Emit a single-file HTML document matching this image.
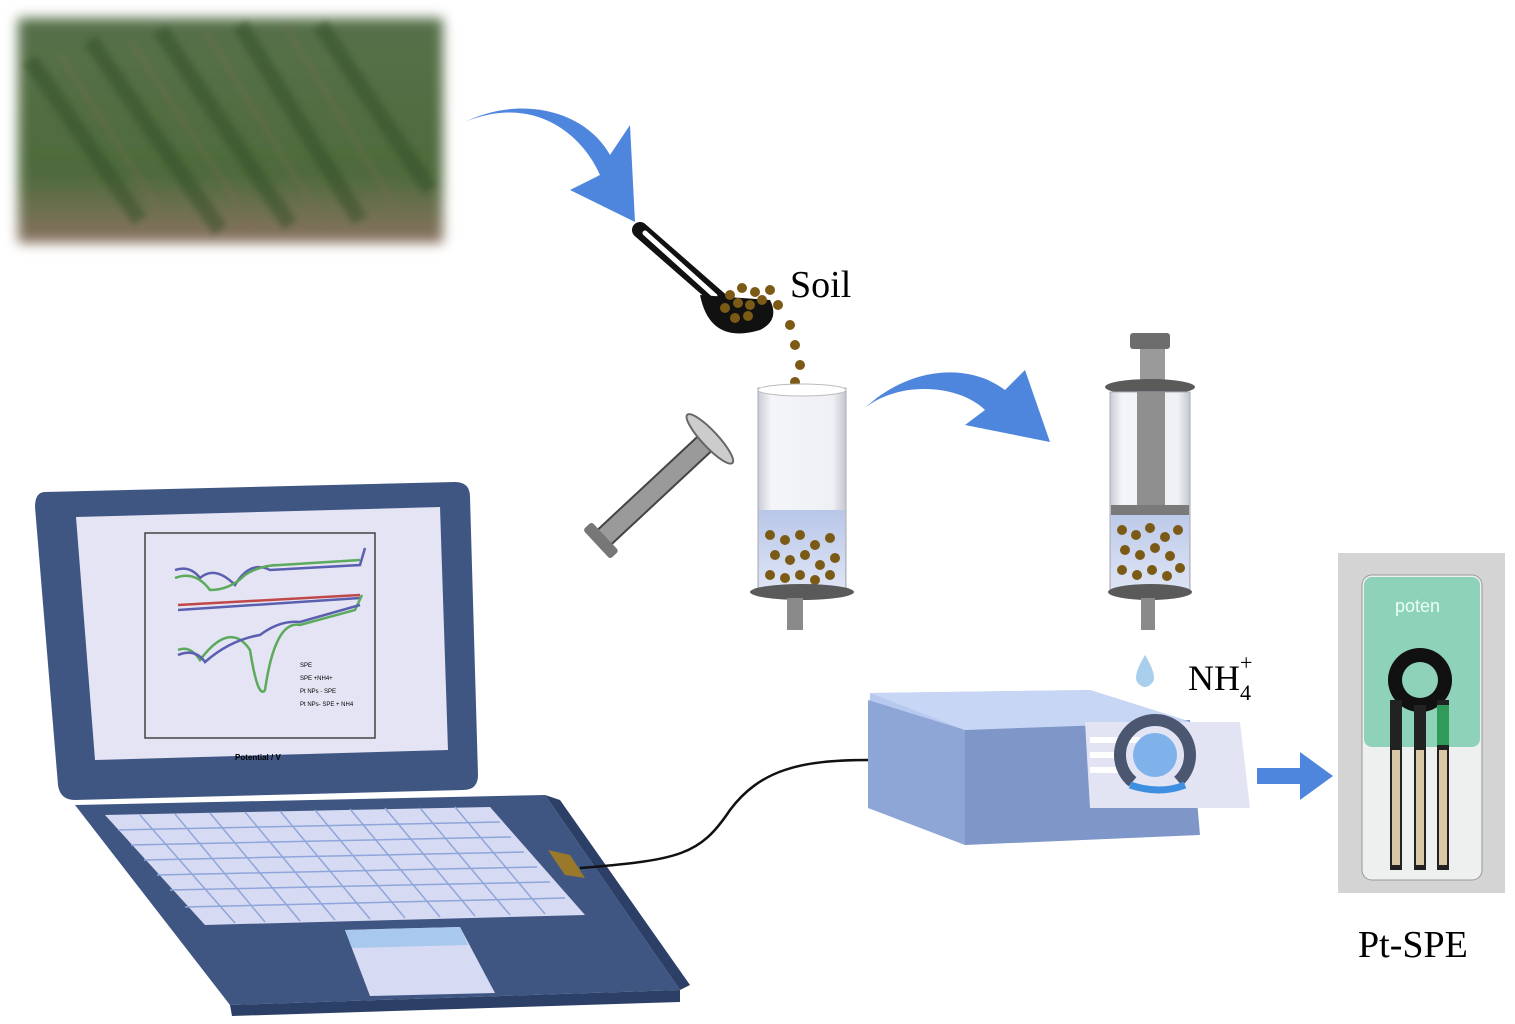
<!DOCTYPE html>
<html><head><meta charset="utf-8"><style>
html,body{margin:0;padding:0;background:#fff;width:1515px;height:1024px;overflow:hidden}
svg{display:block}
text{font-family:"Liberation Serif",serif;fill:#000}
</style></head><body>
<svg width="1515" height="1024" viewBox="0 0 1515 1024" xmlns="http://www.w3.org/2000/svg">
<defs>
<filter id="blur"><feGaussianBlur stdDeviation="6"/></filter>
<filter id="blur2"><feGaussianBlur stdDeviation="3"/></filter>
<linearGradient id="field" x1="0" y1="0" x2="0" y2="1">
<stop offset="0" stop-color="#56704a"/><stop offset="0.7" stop-color="#4f6b3c"/><stop offset="1" stop-color="#8a7362"/></linearGradient>
<linearGradient id="glass" x1="0" y1="0" x2="1" y2="0">
<stop offset="0" stop-color="#c9ccd4"/><stop offset="0.15" stop-color="#f4f5f8"/><stop offset="0.85" stop-color="#eef0f4"/><stop offset="1" stop-color="#c4c7cf"/></linearGradient>
<linearGradient id="liq" x1="0" y1="0" x2="0" y2="1">
<stop offset="0" stop-color="#b8c6e8"/><stop offset="1" stop-color="#dde4f4"/></linearGradient>
</defs>

<!-- field photo -->
<g filter="url(#blur)">
<rect x="18" y="18" width="425" height="225" fill="url(#field)"/>
</g>
<g filter="url(#blur2)">
<g opacity="0.45" stroke="#2f4a26" stroke-width="16">
<path d="M30,60 L140,220"/><path d="M90,40 L220,230"/><path d="M160,30 L290,225"/><path d="M240,25 L360,220"/><path d="M320,25 L430,190"/>
</g>
<g opacity="0.35" stroke="#7f6a55" stroke-width="4">
<path d="M60,55 L170,225"/><path d="M130,40 L255,230"/><path d="M205,30 L325,225"/><path d="M285,25 L400,215"/>
</g>
</g>

<!-- arrow 1 -->
<path d="M465,122 C530,95 580,130 600,175 L570,190 L635,222 L630,125 L610,155 C585,110 520,95 465,122z" fill="#4f86dd"/>
<!-- scoop -->
<path d="M640,230 L720,300" stroke="#111" stroke-width="16" stroke-linecap="round"/>
<path d="M645,233 L715,296" stroke="#fff" stroke-width="5" stroke-linecap="round"/>
<path d="M700,295 Q710,345 760,330 Q780,320 770,300 z" fill="#111"/>
<g fill="#7a5a15">
<circle cx="730" cy="295" r="5"/><circle cx="742" cy="288" r="5"/><circle cx="755" cy="292" r="5"/><circle cx="725" cy="308" r="5"/><circle cx="738" cy="303" r="5"/><circle cx="750" cy="305" r="5"/><circle cx="762" cy="300" r="5"/><circle cx="735" cy="318" r="5"/><circle cx="748" cy="316" r="5"/><circle cx="770" cy="290" r="5"/><circle cx="778" cy="305" r="5"/><circle cx="790" cy="325" r="5"/><circle cx="795" cy="345" r="5"/><circle cx="800" cy="365" r="5"/><circle cx="795" cy="382" r="5"/><circle cx="808" cy="395" r="5"/><circle cx="792" cy="410" r="5"/><circle cx="812" cy="420" r="5"/><circle cx="790" cy="435" r="5"/><circle cx="805" cy="445" r="5"/><circle cx="798" cy="462" r="5"/><circle cx="815" cy="470" r="5"/>
</g>
<text x="790" y="297" font-size="38">Soil</text>

<!-- tilted plunger -->
<g transform="rotate(-43 655 490)">
<rect x="585" y="480" width="140" height="20" fill="#9a9a9a" stroke="#444" stroke-width="2"/>
<rect x="575" y="470" width="12" height="40" rx="3" fill="#777"/>
<ellipse cx="730" cy="490" rx="8" ry="33" fill="#ccc" stroke="#666" stroke-width="2"/>
</g>

<!-- left syringe -->
<rect x="758" y="388" width="88" height="200" fill="url(#glass)" stroke="#aab" stroke-width="1"/>
<ellipse cx="802" cy="390" rx="44" ry="6" fill="#fff" stroke="#bbb"/>
<rect x="759" y="510" width="86" height="78" fill="url(#liq)"/>
<g fill="#7a5a15">
<circle cx="770" cy="535" r="5"/><circle cx="785" cy="540" r="5"/><circle cx="800" cy="535" r="5"/><circle cx="815" cy="545" r="5"/><circle cx="830" cy="538" r="5"/><circle cx="775" cy="555" r="5"/><circle cx="790" cy="560" r="5"/><circle cx="805" cy="555" r="5"/><circle cx="820" cy="565" r="5"/><circle cx="835" cy="558" r="5"/><circle cx="770" cy="575" r="5"/><circle cx="785" cy="578" r="5"/><circle cx="800" cy="575" r="5"/><circle cx="815" cy="580" r="5"/><circle cx="830" cy="575" r="5"/>
</g>
<ellipse cx="802" cy="592" rx="52" ry="8" fill="#5a5a5a"/>
<rect x="787" y="598" width="16" height="32" fill="#8a8a8a"/>

<!-- arrow 2 -->
<path d="M865,408 C900,380 960,385 985,410 L965,425 L1050,442 L1025,370 L1005,390 C965,360 905,370 865,408z" fill="#4f86dd"/>

<!-- right syringe -->
<rect x="1130" y="333" width="40" height="16" rx="3" fill="#6d6d6d"/>
<rect x="1140" y="349" width="25" height="35" fill="#9a9a9a"/>
<ellipse cx="1150" cy="387" rx="45" ry="8" fill="#5a5a5a"/>
<rect x="1110" y="392" width="80" height="198" fill="url(#glass)" stroke="#aab"/>
<rect x="1137" y="392" width="28" height="115" fill="#8f8f8f"/>
<rect x="1111" y="505" width="78" height="85" fill="url(#liq)"/>
<rect x="1111" y="505" width="78" height="10" fill="#7a7a7a"/>
<g fill="#7a5a15">
<circle cx="1122" cy="530" r="5"/><circle cx="1136" cy="535" r="5"/><circle cx="1150" cy="528" r="5"/><circle cx="1165" cy="537" r="5"/><circle cx="1178" cy="530" r="5"/><circle cx="1125" cy="550" r="5"/><circle cx="1140" cy="555" r="5"/><circle cx="1155" cy="548" r="5"/><circle cx="1170" cy="556" r="5"/><circle cx="1122" cy="570" r="5"/><circle cx="1137" cy="575" r="5"/><circle cx="1152" cy="570" r="5"/><circle cx="1167" cy="576" r="5"/><circle cx="1180" cy="568" r="5"/>
</g>
<ellipse cx="1150" cy="592" rx="42" ry="8" fill="#5a5a5a"/>
<rect x="1141" y="598" width="14" height="32" fill="#8a8a8a"/>
<path d="M1145,655 Q1133,675 1137,682 Q1145,692 1153,682 Q1157,675 1145,655z" fill="#a9cfee"/>
<text x="1188" y="690" font-size="36">NH</text><text x="1240" y="700" font-size="22">4</text><text x="1240" y="670" font-size="22">+</text>

<!-- device -->
<path d="M870,693 L1090,690 L1185,720 L1200,808 L965,815 L868,780 z" fill="#b7c9ee"/>
<path d="M868,700 L965,730 L965,845 L868,808z" fill="#8ea6d6"/>
<path d="M965,730 L1190,720 L1200,835 L965,845z" fill="#7e96c8"/>
<path d="M870,693 L965,730 L1190,722 L1090,690z" fill="#c7d6f4"/>
<path d="M1085,722 L1240,722 L1250,808 L1090,808z" fill="#e2e4f4"/>
<path d="M1090,740 L1140,740 M1090,755 L1125,755 M1090,770 L1120,770" stroke="#fff" stroke-width="6"/>
<circle cx="1155" cy="755" r="35" fill="none" stroke="#4b5670" stroke-width="12" stroke-dasharray="170 60" transform="rotate(130 1155 755)"/>
<circle cx="1155" cy="755" r="22" fill="#7fb2ea"/>
<path d="M1130,785 Q1160,795 1185,785" stroke="#3f8fe0" stroke-width="7" fill="none"/>
<!-- arrow 3 -->
<rect x="1257" y="768" width="45" height="16" fill="#4f86dd"/><path d="M1300,752 L1333,776 L1300,800z" fill="#4f86dd"/>

<!-- SPE photo -->
<rect x="1338" y="553" width="167" height="340" fill="#d4d4d4"/>
<rect x="1362" y="575" width="120" height="305" rx="10" fill="#eef0ef" stroke="#999"/>
<rect x="1364" y="577" width="116" height="170" rx="8" fill="#8ed2b9"/>
<text x="1395" y="612" font-size="18" style="fill:#e9fff6;font-family:'Liberation Sans',sans-serif">poten</text>
<circle cx="1420" cy="680" r="32" fill="#111"/><circle cx="1420" cy="680" r="18" fill="#8ed2b9"/>
<rect x="1390" y="700" width="12" height="170" fill="#222"/><rect x="1414" y="705" width="12" height="165" fill="#222"/><rect x="1437" y="700" width="12" height="170" fill="#222"/>
<rect x="1392" y="750" width="8" height="115" fill="#d8c9a4"/><rect x="1416" y="750" width="8" height="115" fill="#d8c9a4"/><rect x="1439" y="750" width="8" height="115" fill="#d8c9a4"/>
<rect x="1437" y="705" width="12" height="40" fill="#2f9a5a"/>
<text x="1358" y="957" font-size="38">Pt-SPE</text>

<!-- laptop -->
<path d="M45,492 L455,482 Q470,482 470,497 L478,775 Q478,790 463,790 L75,800 Q60,800 58,785 L35,507 Q35,492 45,492z" fill="#3f5683"/>
<path d="M76,517 L440,507 L448,750 L95,760z" fill="#e4e4f4"/>
<g fill="none" stroke-width="2.5">
<rect x="145" y="533" width="230" height="205" stroke="#444" stroke-width="1.5"/>
<path d="M175,570 Q190,565 200,578 Q215,565 235,585 Q250,560 270,570 L360,565 L365,548" stroke="#5b5fb0"/>
<path d="M175,578 Q195,570 210,590 Q230,590 245,575 Q260,565 280,565 L360,560" stroke="#5caa5c"/>
<path d="M178,605 L360,595" stroke="#c04848"/>
<path d="M178,610 L360,598" stroke="#5b5fb0"/>
<path d="M178,650 Q190,645 200,660 Q230,620 250,650 Q258,700 265,690 Q275,620 300,625 L355,610 L362,595" stroke="#5caa5c"/>
<path d="M178,655 Q195,648 205,662 Q230,640 260,635 Q280,620 300,622 L360,605" stroke="#5b5fb0"/>
</g>
<g>
<text x="300" y="667" style="font:6px 'Liberation Sans',sans-serif">SPE</text><text x="300" y="680" style="font:6px 'Liberation Sans',sans-serif">SPE +NH4+</text><text x="300" y="693" style="font:6px 'Liberation Sans',sans-serif">Pt NPs - SPE</text><text x="300" y="706" style="font:6px 'Liberation Sans',sans-serif">Pt NPs- SPE + NH4</text>
<text x="235" y="760" style="font:bold 8px 'Liberation Sans',sans-serif">Potential / V</text>
</g>
<path d="M75,805 L545,795 L680,990 L230,1005z" fill="#3f5683"/>
<path d="M230,1005 L680,990 L680,1002 L232,1016z" fill="#2c3f66"/>
<path d="M545,795 L560,800 L690,985 L680,990z" fill="#2c3f66"/>
<path d="M105,815 L490,807 L585,915 L205,925z" fill="#d6daf2"/>
<g stroke="#8fa6da" stroke-width="1.5">
<path d="M118,830 L500,822 M131,845 L511,837 M144,860 L524,852 M157,875 L537,867 M170,890 L550,882 M185,907 L565,898"/>
<path d="M140,815 L235,923 M175,814 L265,922 M210,813 L300,921 M245,812 L335,920 M280,811 L370,919 M315,810 L405,918 M350,809 L440,917 M385,808 L475,916 M420,808 L510,915 M455,807 L545,914"/>
</g>
<path d="M345,930 L460,927 L495,993 L370,996z" fill="#d6daf2"/>
<path d="M345,930 L460,927 L468,945 L352,948z" fill="#a9c8ee"/>
<path d="M548,850 L570,855 L585,878 L565,875z" fill="#9a7a2a"/>
<path d="M580,868 C680,860 700,855 730,810 C760,770 800,760 868,760" fill="none" stroke="#111" stroke-width="2.5"/>
</svg>
</body></html>
